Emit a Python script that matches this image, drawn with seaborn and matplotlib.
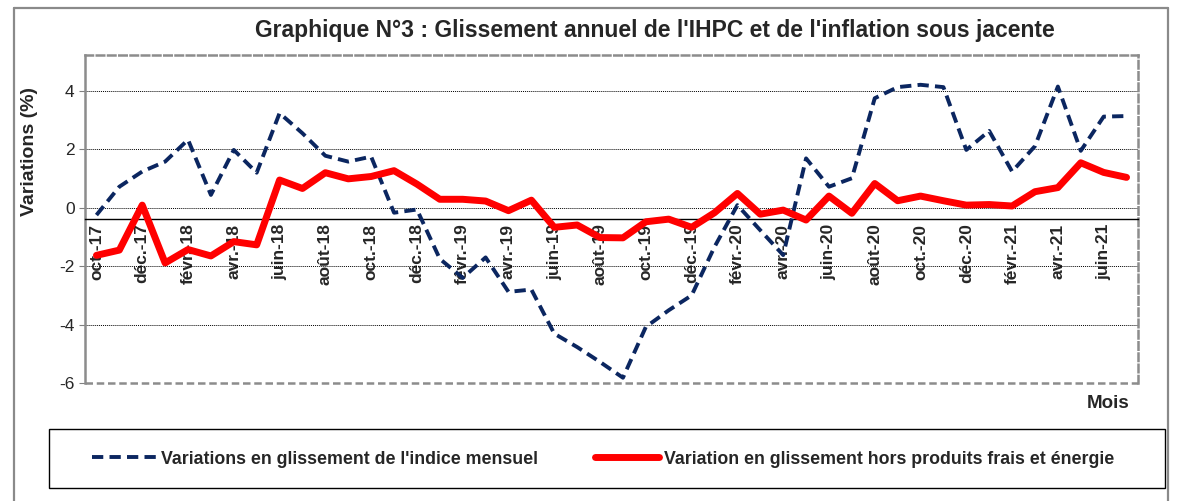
import numpy as np
import pandas as pd
import matplotlib
matplotlib.use('Agg')
import matplotlib.pyplot as plt
import seaborn as sns
from matplotlib.patches import Rectangle
from matplotlib.lines import Line2D

months = ['oct.-17', 'nov.-17', 'déc.-17',
          'janv.-18', 'févr.-18', 'mars-18', 'avr.-18', 'mai-18', 'juin-18',
          'juil.-18', 'août-18', 'sept.-18', 'oct.-18', 'nov.-18', 'déc.-18',
          'janv.-19', 'févr.-19', 'mars-19', 'avr.-19', 'mai-19', 'juin-19',
          'juil.-19', 'août-19', 'sept.-19', 'oct.-19', 'nov.-19', 'déc.-19',
          'janv.-20', 'févr.-20', 'mars-20', 'avr.-20', 'mai-20', 'juin-20',
          'juil.-20', 'août-20', 'sept.-20', 'oct.-20', 'nov.-20', 'déc.-20',
          'janv.-21', 'févr.-21', 'mars-21', 'avr.-21', 'mai-21', 'juin-21', 'juil.-21']

# glissement annuel de l'IHPC (%)
ihpc = [-0.25, 0.72, 1.24, 1.58, 2.33, 0.44, 1.98, 1.20, 3.24, 2.55, 1.78, 1.58,
        1.75, -0.17, -0.06, -1.75, -2.40, -1.70, -2.88, -2.80, -4.31, -4.77, -5.28,
        -5.82, -4.08, -3.51, -3.00, -1.34, 0.09, -0.77, -1.62, 1.69, 0.72, 1.01,
        3.75, 4.13, 4.21, 4.13, 1.98, 2.63, 1.24, 2.11, 4.15, 1.95, 3.12, 3.14]

# inflation sous-jacente (hors produits frais et énergie)
sous_jacente = [-1.63, -1.45, 0.09, -1.89, -1.43, -1.65, -1.16, -1.27, 0.95, 0.66,
                1.20, 0.99, 1.07, 1.27, 0.81, 0.29, 0.29, 0.23, -0.10, 0.26, -0.67,
                -0.59, -1.02, -1.03, -0.48, -0.39, -0.67, -0.17, 0.49, -0.22, -0.08,
                -0.42, 0.40, -0.19, 0.83, 0.24, 0.40, 0.24, 0.09, 0.11, 0.06, 0.55,
                0.69, 1.54, 1.21, 1.04]

label_ihpc = "Variations en glissement de l'indice mensuel"
label_sj = "Variation en glissement hors produits frais et énergie"

sns.set_style('white')
plt.rcParams['font.family'] = ['Liberation Sans', 'DejaVu Sans']
plt.rcParams['axes.unicode_minus'] = False

W, H = 1177, 501
df = pd.DataFrame({'pos': np.arange(len(months)), 'ihpc': ihpc, 'sj': sous_jacente})

fig = plt.figure(figsize=(W / 100, H / 100), dpi=100)
ax = fig.add_axes([85 / W, 1 - 383 / H, (1138 - 85) / W, (383 - 55) / H])

# lines sit above the month labels, as in the original
sns.lineplot(data=df, x='pos', y='ihpc', ax=ax, color='#0b2660', linewidth=2.8, linestyle='--', zorder=4)
ax.lines[-1].set_dashes((2.9, 1.6))
sns.lineplot(data=df, x='pos', y='sj', ax=ax, color='#ff0000', linewidth=5, zorder=4)

ax.set_xlim(-0.5, len(months) - 0.5)
ax.set_ylim(-6, 5.23)
ax.set_xlabel('')
ax.set_ylabel('')

# horizontal axis crosses at -0.4 (set before ticks: set_position resets them)
ax.spines['bottom'].set_position(('data', -0.4))
ax.spines['bottom'].set_color('black')
ax.spines['bottom'].set_linewidth(1)
for s in ['top', 'right']:
    ax.spines[s].set_visible(True)
    ax.spines[s].set_color('#8c8c8c')
    ax.spines[s].set_linewidth(1.8)
    ax.spines[s].set_linestyle((0, (3, 1.5)))
ax.spines['left'].set_color('#8c8c8c')
ax.spines['left'].set_linewidth(1.8)
ax.add_line(Line2D([0, 1], [0, 0], transform=ax.transAxes, color='#8c8c8c', lw=1.8,
                   linestyle=(0, (3, 1.5)), clip_on=False, zorder=3))

ax.set_yticks([-6, -4, -2, 0, 2, 4])
ax.grid(axis='y', color='black', linestyle=(0, (1, 1)), linewidth=0.7)
ax.set_axisbelow(True)

# ticks between categories, labels every two months
ax.set_xticks(np.arange(-0.5, len(months)), labels=[])
ax.set_xticks(np.arange(0, len(months), 2), labels=months[::2], minor=True)
ax.tick_params(axis='x', which='major', direction='out', length=5, width=1, color='black')
ax.tick_params(axis='x', which='minor', length=0, labelrotation=90, labelsize=12.5, pad=3)
ax.tick_params(axis='y', direction='out', length=4, color='#808080', labelsize=12.5, left=True)
for t in ax.xaxis.get_minor_ticks():
    t.label1.set_fontweight('bold')

fig.text(655 / W, 1 - 31 / H, "Graphique N°3 : Glissement annuel de l'IHPC et de l'inflation sous jacente",
         ha='center', va='center', fontsize=16.5, fontweight='bold')
fig.text(30 / W, 1 - 151 / H, 'Variations (%)', rotation=90, ha='center', va='center',
         fontsize=14, fontweight='bold')
fig.text(1108 / W, 1 - 403 / H, 'Mois', ha='center', va='center', fontsize=13.5, fontweight='bold')

handles = [Line2D([], [], color='#0b2660', lw=2.8, linestyle=(0, (2.9, 1.6))),
           Line2D([], [], color='#ff0000', lw=5)]
fig.legend(handles, [label_ihpc, label_sj], loc='center', bbox_to_anchor=(603 / W, 1 - 459 / H),
           ncol=2, frameon=False, prop={'weight': 'bold', 'size': 12.8},
           handlelength=3.6, columnspacing=3.2, handletextpad=0.3)
fig.add_artist(Rectangle((49 / W, 1 - 488 / H), (1165 - 49) / W, 59 / H, transform=fig.transFigure,
                         fill=False, edgecolor='black', lw=1))

# outer chart frame
gray = '#8a8a8a'
fig.add_artist(Line2D([14 / W, 14 / W], [0, 1 - 8 / H], transform=fig.transFigure, color=gray, lw=1.6))
fig.add_artist(Line2D([14 / W, 1168 / W], [1 - 8 / H, 1 - 8 / H], transform=fig.transFigure, color=gray, lw=1.6))
fig.add_artist(Line2D([1168 / W, 1168 / W], [0, 1 - 8 / H], transform=fig.transFigure, color=gray, lw=1.6))

fig.savefig('out.png', dpi=100)
